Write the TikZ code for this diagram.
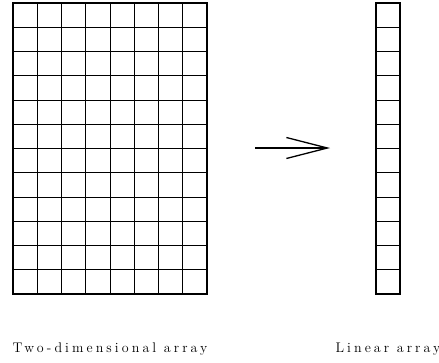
\documentclass[tikz,border=0pt]{standalone}
\usepackage{fontspec}
\newfontfamily\labfont[LetterSpace=22]{Latin Modern Roman}
\usetikzlibrary{arrows.meta}
\begin{document}
\begin{tikzpicture}[x=1pt,y=-1pt,
  thin line/.style={line width=0.9pt},
  frame/.style={line width=1.7pt},
  arrlabel/.style={font=\labfont\fontsize{14}{16}\selectfont, anchor=base, inner sep=0pt}]
\useasboundingbox (0,0) rectangle (439,362);
% two-dimensional array
\foreach \i in {1,...,7} \draw[thin line] ({13+\i*24.25},3) -- ({13+\i*24.25},294);
\foreach \j in {1,...,11} \draw[thin line] (13,{3+\j*24.25}) -- (207,{3+\j*24.25});
\draw[frame] (13,3) rectangle (207,294);
% linear array
\foreach \j in {1,...,11} \draw[thin line] (376,{3+\j*24.25}) -- (400.25,{3+\j*24.25});
\draw[frame] (376,3) rectangle (400.25,294);
% arrow
\coordinate (a1) at (255,148);
\coordinate (a2) at (330,148);
\draw[line width=1.3pt, -{Straight Barb[length=41pt,width=21pt,line width=1.3pt]}] (a1) -- (a2);
% labels
\node[arrlabel] (t1) at (110,352) {Two-dimensional array};
\node[arrlabel] (t2) at (388,352) {Linear array};
\end{tikzpicture}
\end{document}
